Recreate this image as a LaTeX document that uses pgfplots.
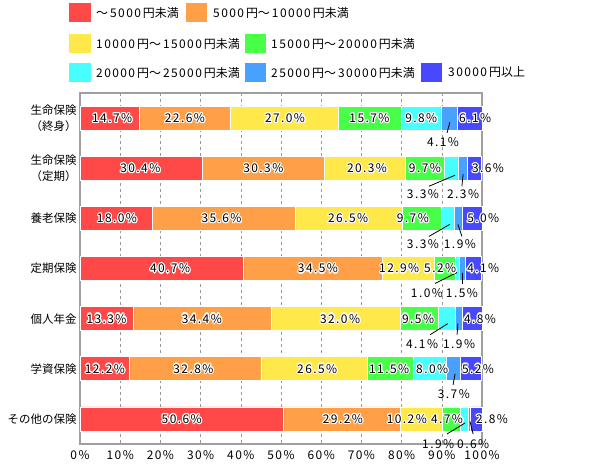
\documentclass[border=0pt]{standalone}
\usepackage{fontspec}
\setmainfont{Noto Sans CJK JP}
\newfontfamily\nf[LetterSpace=12]{Noto Sans CJK JP}
\usepackage{pgfplots}
\pgfplotsset{compat=1.18}
\definecolor{c1}{HTML}{FF4848}
\definecolor{c2}{HTML}{FFA048}
\definecolor{c3}{HTML}{FFE84A}
\definecolor{c4}{HTML}{48FF48}
\definecolor{c5}{HTML}{48FFFF}
\definecolor{c6}{HTML}{48A0FF}
\definecolor{c7}{HTML}{4848FF}
\newcommand\lf{\fontsize{12}{14}\nf}
\newcommand\lab[3]{%
  \pgfplotsinvokeforeach{0,30,60,90,120,150,180,210,240,270,300,330}{\node[font=\lf,inner sep=0pt,text=white,shift={(##1:1.2bp)}] at (axis cs:#1,#2) {#3\%};}%
  \node[font=\lf,inner sep=0pt,text=black] at (axis cs:#1,#2) {#3\%};}
\newcommand\blab[3]{\node[font=\lf,inner sep=0pt] at (axis cs:#1,#2) {#3\%};}
\newcommand\ldr[4]{\draw[black,line width=0.8bp] (axis cs:#1,#2) -- (axis cs:#3,#4);}
\begin{document}
\begin{tikzpicture}
\useasboundingbox (-80bp,-25bp) rectangle (511bp,444bp);
\begin{axis}[
  at={(0,0)}, anchor=south west,
  width=402bp, height=351bp, scale only axis,
  xbar stacked, reverse stacked plots=false, bar width=24bp,
  xmin=0, xmax=100, ymin=-0.5, ymax=6.5, y dir=reverse,
  clip=false,
  ytick={0,...,6},
  yticklabels={生命保険\\（終身）,生命保険\\（定期）,養老保険,定期保険,個人年金,学資保険,その他の保険},
  yticklabel style={align=right,font=\fontsize{11.5}{16}\selectfont},
  xtick={0,10,...,100},
  xticklabels={0\%,10\%,20\%,30\%,40\%,50\%,60\%,70\%,80\%,90\%,100\%},
  xticklabel style={font=\lf,yshift=-3bp},
  major tick length=0pt,
  xmajorgrids, grid style={dashed,gray!80,line width=0.6bp},
  axis line style={draw=gray!75,line width=1.3bp},
  every axis plot/.append style={draw=white,line width=0.6bp},
]
\addplot[fill=c1] coordinates {(14.7,0) (30.4,1) (18.0,2) (40.7,3) (13.3,4) (12.2,5) (50.6,6)};
\addplot[fill=c2] coordinates {(22.6,0) (30.3,1) (35.6,2) (34.5,3) (34.4,4) (32.8,5) (29.2,6)};
\addplot[fill=c3] coordinates {(27.0,0) (20.3,1) (26.5,2) (12.9,3) (32.0,4) (26.5,5) (10.2,6)};
\addplot[fill=c4] coordinates {(15.7,0) (9.7,1) (9.7,2) (5.2,3) (9.5,4) (11.5,5) (4.7,6)};
\addplot[fill=c5] coordinates {(9.8,0) (3.3,1) (3.3,2) (1.0,3) (4.1,4) (8.0,5) (1.9,6)};
\addplot[fill=c6] coordinates {(4.1,0) (2.3,1) (1.9,2) (1.5,3) (1.9,4) (3.7,5) (0.6,6)};
\addplot[fill=c7] coordinates {(6.1,0) (3.6,1) (5.0,2) (4.1,3) (4.8,4) (5.2,5) (2.8,6)};
% leader lines
\ldr{92.0}{0.08}{91.3}{0.30}
\ldr{93.3}{1.14}{86.8}{1.36}
\ldr{95.3}{1.12}{95.0}{1.36}
\ldr{92.0}{2.12}{86.8}{2.36}
\ldr{94.0}{2.12}{95.0}{2.36}
\ldr{93.8}{3.08}{88.3}{3.30}
\ldr{95.0}{3.08}{95.0}{3.30}
\ldr{91.5}{4.10}{87.1}{4.32}
\ldr{94.0}{4.10}{93.8}{4.32}
\ldr{93.3}{5.10}{92.8}{5.32}
\ldr{95.8}{6.08}{91.3}{6.30}
\ldr{97.0}{6.05}{97.8}{6.30}
% inside labels
\lab{8.0}{0}{14.7}\lab{26.1}{0}{22.6}\lab{51.0}{0}{27.0}\lab{72.0}{0}{15.7}\lab{84.9}{0}{9.8}\lab{98.3}{0}{6.1}
\lab{15.0}{1}{30.4}\lab{45.6}{1}{30.3}\lab{71.4}{1}{20.3}\lab{85.8}{1}{9.7}\lab{101.5}{1}{3.6}
\lab{9.2}{2}{18.0}\lab{35.2}{2}{35.6}\lab{66.7}{2}{26.5}\lab{82.8}{2}{9.7}\lab{100.3}{2}{5.0}
\lab{22.4}{3}{40.7}\lab{59.2}{3}{34.5}\lab{79.4}{3}{12.9}\lab{89.6}{3}{5.2}\lab{100.3}{3}{4.1}
\lab{6.6}{4}{13.3}\lab{30.3}{4}{34.4}\lab{64.7}{4}{32.0}\lab{84.1}{4}{9.5}\lab{99.5}{4}{4.8}
\lab{6.2}{5}{12.2}\lab{28.2}{5}{32.8}\lab{59.0}{5}{26.5}\lab{76.9}{5}{11.5}\lab{87.6}{5}{8.0}\lab{99.0}{5}{5.2}
\lab{25.3}{6}{50.6}\lab{65.4}{6}{29.2}\lab{81.3}{6}{10.2}\lab{91.3}{6}{4.7}\lab{102.5}{6}{2.8}
% below labels
\blab{90.3}{0.48}{4.1}
\blab{85.3}{1.52}{3.3}\blab{95.3}{1.52}{2.3}
\blab{85.3}{2.52}{3.3}\blab{94.5}{2.52}{1.9}
\blab{86.3}{3.50}{1.0}\blab{95.0}{3.50}{1.5}
\blab{85.1}{4.50}{4.1}\blab{94.3}{4.50}{1.9}
\blab{93.0}{5.50}{3.7}
\blab{89.1}{6.50}{1.9}\blab{97.8}{6.50}{0.6}
\end{axis}
% legend
\begin{scope}[font=\fontsize{12}{14}\selectfont]
\fill[c1] (-11bp,422bp) rectangle (11bp,441bp);
\node[anchor=west,inner sep=0pt] at (16bp,431.5bp) {～\,{\nf 5000}\,円未満};
\fill[c2] (106bp,422bp) rectangle (127bp,441bp);
\node[anchor=west,inner sep=0pt] at (133bp,431.5bp) {{\nf 5000}\,円～\,{\nf 10000}\,円未満};
\fill[c3] (-11bp,391bp) rectangle (11bp,410bp);
\node[anchor=west,inner sep=0pt] at (16bp,400.5bp) {{\nf 10000}\,円～\,{\nf 15000}\,円未満};
\fill[c4] (165bp,391bp) rectangle (186bp,410bp);
\node[anchor=west,inner sep=0pt] at (191bp,400.5bp) {{\nf 15000}\,円～\,{\nf 20000}\,円未満};
\fill[c5] (-11bp,362bp) rectangle (11bp,381bp);
\node[anchor=west,inner sep=0pt] at (16bp,371.5bp) {{\nf 20000}\,円～\,{\nf 25000}\,円未満};
\fill[c6] (165bp,362bp) rectangle (186bp,381bp);
\node[anchor=west,inner sep=0pt] at (191bp,371.5bp) {{\nf 25000}\,円～\,{\nf 30000}\,円未満};
\fill[c7] (341bp,362bp) rectangle (362bp,381bp);
\node[anchor=west,inner sep=0pt] at (368bp,371.5bp) {{\nf 30000}\,円以上};
\end{scope}
\end{tikzpicture}
\end{document}
